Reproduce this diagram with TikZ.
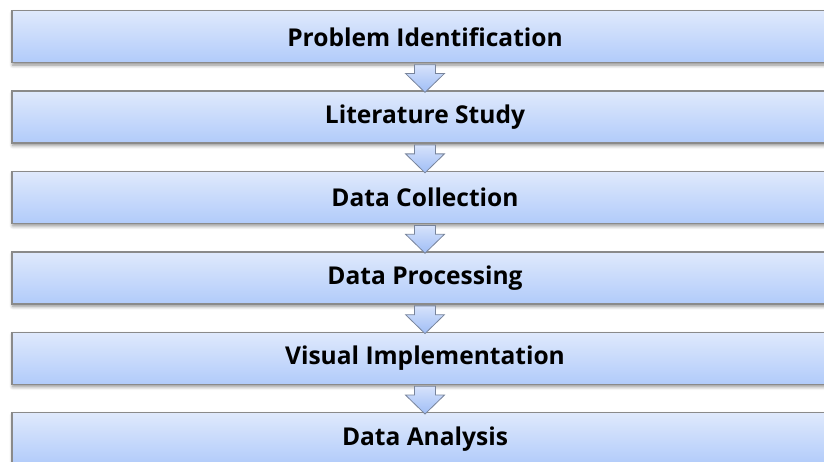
\documentclass[tikz,border=0pt]{standalone}
\usepackage{fontspec}
\setmainfont{Open Sans}
\usetikzlibrary{shadows.blur}
\definecolor{boxtop}{RGB}{223,233,252}
\definecolor{boxbot}{RGB}{177,203,250}
\definecolor{edgegray}{RGB}{138,138,138}
\definecolor{arrtop}{RGB}{214,226,251}
\definecolor{arrbot}{RGB}{160,190,246}
\definecolor{arredge}{RGB}{120,132,155}
\begin{document}
\begin{tikzpicture}[x=0.75pt,y=-0.75pt,
  stepbox/.style={draw=edgegray, line width=1.1pt, top color=boxtop, bottom color=boxbot,
    minimum width=619.5pt, minimum height=39pt, inner sep=0pt, anchor=north,
    font=\fontsize{18.4pt}{22pt}\selectfont\bfseries,
    blur shadow={shadow xshift=0.6pt, shadow yshift=-1.8pt, shadow blur steps=6,
      shadow blur radius=2.6pt, shadow opacity=45}},
  flowarrow/.style={draw=arredge, line width=0.6pt, top color=arrtop, bottom color=arrbot,
    line join=miter}]
\useasboundingbox (0,0) rectangle (824,461);
\clip (0,0) rectangle (824,461);

% process steps, top to bottom
\node[stepbox] (s1) at (425,10)    {Problem Identification};
\node[stepbox] (s2) at (425,90.4)  {Literature Study};
\node[stepbox] (s3) at (425,170.8) {Data Collection};
\node[stepbox] (s4) at (425,251.2) {Data Processing};
\node[stepbox] (s5) at (425,331.6) {Visual Implementation};
\node[stepbox] (s6) at (425,412)   {Data Analysis};

% block arrows between consecutive steps
\foreach \a/\b in {s1/s2,s2/s3,s3/s4,s4/s5,s5/s6}{
  \path[flowarrow]
    ([xshift=-7.9pt,yshift=-0.9pt]\a.south) --
    ([xshift=-7.9pt,yshift=-7.5pt]\a.south) --
    ([xshift=-14.6pt,yshift=-7.5pt]\a.south) --
    ([yshift=-1.5pt]\b.north) --
    ([xshift=14.6pt,yshift=-7.5pt]\a.south) --
    ([xshift=7.9pt,yshift=-7.5pt]\a.south) --
    ([xshift=7.9pt,yshift=-0.9pt]\a.south) -- cycle;
}
\end{tikzpicture}
\end{document}
